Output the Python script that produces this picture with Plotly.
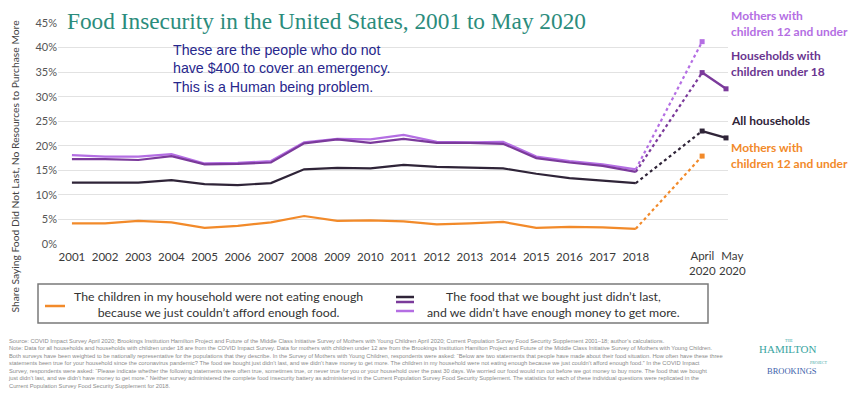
import plotly.graph_objects as go

# ---------------- data ----------------
years = list(range(2001, 2019))
x_apr, x_may = 2020.0, 2020.72          # April 2020, May 2020 data positions on the axis
label_2020 = ["April<br>2020", "May<br>2020"]

children_not_eating = [4.2, 4.2, 4.7, 4.4, 3.3, 3.7, 4.4, 5.7, 4.7, 4.8, 4.6, 4.0, 4.2, 4.5, 3.3, 3.5, 3.4, 3.1]
all_households = [12.5, 12.5, 12.5, 13.0, 12.2, 12.0, 12.4, 15.2, 15.5, 15.4, 16.1, 15.7, 15.6, 15.4, 14.3, 13.4, 12.9, 12.4]
households_u18 = [17.3, 17.3, 17.1, 17.9, 16.2, 16.3, 16.6, 20.5, 21.3, 20.6, 21.4, 20.6, 20.6, 20.4, 17.5, 16.6, 15.9, 14.7]
mothers_u12 = [18.1, 17.8, 17.8, 18.3, 16.4, 16.5, 16.9, 20.7, 21.4, 21.3, 22.2, 20.8, 20.7, 20.8, 17.8, 16.9, 16.2, 15.2]

mothers_u12_2020 = [41.2]           # April only
households_u18_2020 = [34.9, 31.6]  # April, May
all_households_2020 = [23.0, 21.6]  # April, May
children_not_eating_2020 = [17.9]   # April only (mothers with children 12 and under)

C_ORANGE = "#f28a2a"
C_BLACK = "#2f2438"
C_DPURPLE = "#7b3a9b"
C_LPURPLE = "#b46ee3"

fig = go.Figure()

def add_series(hist, vals2020, color, width=2.2):
    fig.add_trace(go.Scatter(x=years, y=hist, mode="lines",
                             line=dict(color=color, width=width), showlegend=False,
                             hoverinfo="skip"))
    fig.add_trace(go.Scatter(x=[years[-1], x_apr], y=[hist[-1], vals2020[0]], mode="lines",
                             line=dict(color=color, width=2.2, dash="dot"), showlegend=False,
                             hoverinfo="skip"))
    xs = [x_apr, x_may][:len(vals2020)]
    fig.add_trace(go.Scatter(x=xs, y=vals2020, mode="lines+markers",
                             line=dict(color=color, width=2.4),
                             marker=dict(color=color, size=5, symbol="square"),
                             showlegend=False, cliponaxis=False, hoverinfo="skip"))

add_series(children_not_eating, children_not_eating_2020, C_ORANGE)
add_series(all_households, all_households_2020, C_BLACK)
add_series(mothers_u12, mothers_u12_2020, C_LPURPLE)
add_series(households_u18, households_u18_2020, C_DPURPLE)

# ---------------- layout ----------------
OFF = 8
SW, SH = 861, 394
PL, PR, PT, PB = 58, 728, 23, 244
W, H = SW - OFF, SH - OFF
L, T = PL - OFF, PT - OFF
R, B = SW - PR, SH - PB
PW, PH = PR - PL, PB - PT
X0, X1 = 2000.58, 2020.78

def px(x):
    return (x - PL) / PW

def py(y):
    return (PB - y) / PH

fig.update_layout(
    template="none",
    width=W, height=H,
    margin=dict(l=L, r=R, t=T, b=B, pad=0),
    paper_bgcolor="white", plot_bgcolor="white",
    showlegend=False,
    font=dict(family="Lato, Noto Sans, sans-serif", color="#444"),
)
fig.update_xaxes(range=[X0, X1], tickvals=years, ticktext=[str(y) for y in years],
                 tickangle=0, automargin=False, ticklabelstandoff=4,
                 showgrid=False, zeroline=False, showline=False, ticks="",
                 tickfont=dict(size=11.5, color="#3a3a3a", family="Lato"))
fig.update_yaxes(range=[0, 45], dtick=5, ticksuffix="%", showgrid=True, automargin=False,
                 gridcolor="#e2e2e2", gridwidth=1, zeroline=False, showline=False,
                 ticks="", tickfont=dict(size=11, color="#555", family="Lato"))

ann = []
for txt, xpix in zip(label_2020, [702, 733]):
    ann.append(dict(text=txt, x=px(xpix), y=py(263), xref="paper", yref="paper", xanchor="center",
                    yanchor="middle", align="center", showarrow=False,
                    font=dict(size=11.5, color="#3a3a3a", family="Lato")))
ann.append(dict(text="Food Insecurity in the United States, 2001 to May 2020",
                x=px(66), y=py(20.5), xref="paper", yref="paper", xanchor="left", yanchor="middle",
                showarrow=False, bgcolor="white", borderpad=0,
                font=dict(family="Liberation Serif, DejaVu Serif, serif", size=23.3, color="#2b8c7c")))
ann.append(dict(text="These are the people who do not<br>have $400 to cover an emergency.<br>This is a Human being problem.",
                x=px(171), y=py(68), xref="paper", yref="paper", xanchor="left", yanchor="middle",
                align="left", showarrow=False,
                font=dict(family="Liberation Sans, Arial, sans-serif", size=14.2, color="#27278c")))
ann.append(dict(text="Share Saying Food Did Not Last, No Resources to Purchase More",
                x=px(14.5), y=py(166), xref="paper", yref="paper", xanchor="center", yanchor="middle",
                textangle=-90, showarrow=False, borderpad=0,
                font=dict(family="Lato", size=10.3, color="#444")))
right_labels = [
    ("Mothers with<br>children 12 and under", 23.5, C_LPURPLE),
    ("Households with<br>children under 18", 63, "#6a3590"),
    ("All households", 120, C_BLACK),
    ("Mothers with<br>children 12 and under", 155, C_ORANGE),
]
for txt, yy, col in right_labels:
    ann.append(dict(text="<b>" + txt + "</b>", x=px(729), y=py(yy), xref="paper", yref="paper",
                    xanchor="left", yanchor="middle", align="left", showarrow=False,
                    font=dict(family="Lato", size=12, color=col)))

ann.append(dict(text="The children in my household were not eating enough<br>because we just couldn\u2019t afford enough food.",
                x=px(218), y=py(304), xref="paper", yref="paper", xanchor="center", yanchor="middle",
                align="center", showarrow=False, font=dict(family="Lato", size=12.3, color="#333")))
ann.append(dict(text="The food that we bought just didn\u2019t last,<br>and we didn\u2019t have enough money to get more.",
                x=px(553), y=py(304), xref="paper", yref="paper", xanchor="center", yanchor="middle",
                align="center", showarrow=False, font=dict(family="Lato", size=12.3, color="#333")))

source_lines = [
    "Source: COVID Impact Survey April 2020; Brookings Institution Hamilton Project and Future of the Middle Class Initiative Survey of Mothers with Young Children April 2020; Current Population Survey Food Security Supplement 2001\u201318; author\u2019s calculations.",
    "Note: Data for all households and households with children under 18 are from the COVID Impact Survey. Data for mothers with children under 12 are from the Brookings Institution Hamilton Project and Future of the Middle Class Initiative Survey of Mothers with Young Children.",
    "Both surveys have been weighted to be nationally representative for the populations that they describe. In the Survey of Mothers with Young Children, respondents were asked: \u201cBelow are two statements that people have made about their food situation. How often have these three",
    "statements been true for your household since the coronavirus pandemic? The food we bought just didn\u2019t last, and we didn\u2019t have money to get more. The children in my household were not eating enough because we just couldn\u2019t afford enough food.\u201d In the COVID Impact",
    "Survey, respondents were asked: \u201cPlease indicate whether the following statements were often true, sometimes true, or never true for you or your household over the past 30 days. We worried our food would run out before we got money to buy more. The food that we bought",
    "just didn\u2019t last, and we didn\u2019t have money to get more.\u201d Neither survey administered the complete food insecurity battery as administered in the Current Population Survey Food Security Supplement. The statistics for each of these individual questions were replicated in the",
    "Current Population Survey Food Security Supplement for 2018.",
]
ann.append(dict(text="<br>".join(source_lines), x=px(6), y=py(364), xref="paper", yref="paper",
                xanchor="left", yanchor="middle", align="left", showarrow=False,
                font=dict(family="Liberation Sans, Arial, sans-serif", size=5.75, color="#8a8a8a")))

ann.append(dict(text="THE", x=px(794), y=py(344), xref="paper", yref="paper", showarrow=False,
                borderpad=0, font=dict(family="Liberation Serif", size=4, color="#3aa59f")))
ann.append(dict(text="HAMILTON", x=px(818), y=py(356), xref="paper", yref="paper", showarrow=False,
                borderpad=0, font=dict(family="Liberation Serif", size=11, color="#3aa59f")))
ann.append(dict(text="PROJECT", x=px(828), y=py(366), xref="paper", yref="paper", showarrow=False,
                borderpad=0, font=dict(family="Liberation Serif", size=4, color="#3aa59f")))
ann.append(dict(text="BROOKINGS", x=px(818), y=py(377), xref="paper", yref="paper", showarrow=False,
                borderpad=0, font=dict(family="Liberation Serif", size=8.5, color="#3d62aa")))

fig.update_layout(annotations=ann)

shapes = [
    dict(type="rect", xref="paper", yref="paper", x0=px(38), x1=px(708), y0=py(323), y1=py(284),
         line=dict(color="#7a7a7a", width=1.5), fillcolor="rgba(0,0,0,0)"),
    dict(type="line", xref="paper", yref="paper", x0=px(45), x1=px(65), y0=py(306), y1=py(306),
         line=dict(color=C_ORANGE, width=2.5)),
    dict(type="line", xref="paper", yref="paper", x0=px(396), x1=px(414), y0=py(297), y1=py(297),
         line=dict(color=C_BLACK, width=2.5)),
    dict(type="line", xref="paper", yref="paper", x0=px(396), x1=px(414), y0=py(302), y1=py(302),
         line=dict(color=C_DPURPLE, width=2.5)),
    dict(type="line", xref="paper", yref="paper", x0=px(396), x1=px(414), y0=py(311), y1=py(311),
         line=dict(color=C_LPURPLE, width=2.5)),
]
fig.update_layout(shapes=shapes)

fig.write_html("out.html")
